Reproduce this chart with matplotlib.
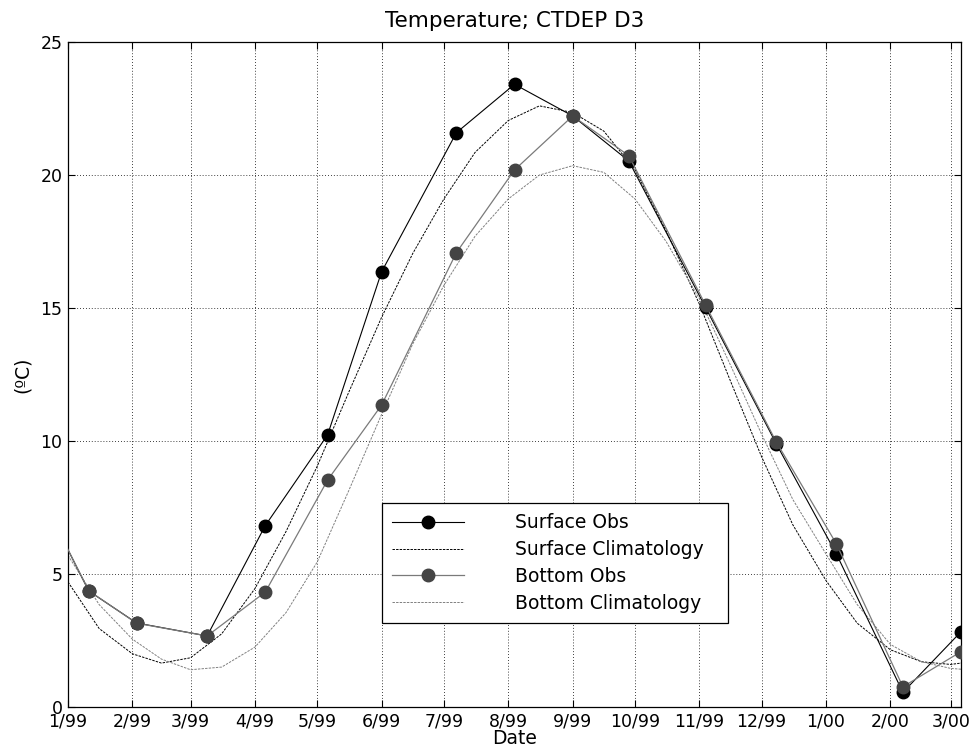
import numpy as np
import matplotlib
matplotlib.use("Agg")
import matplotlib.pyplot as plt
import matplotlib.dates as mdates
from matplotlib.ticker import FuncFormatter

# observations (surface and bottom), CTDEP station D3
obs_dates = np.array(['1998-12-15', '1999-01-11', '1999-02-03', '1999-03-09', '1999-04-06',
                      '1999-05-06', '1999-06-01', '1999-07-07', '1999-08-04', '1999-09-01',
                      '1999-09-28', '1999-11-04', '1999-12-08', '2000-01-06', '2000-02-07',
                      '2000-03-06'], dtype='datetime64[D]')
surf_obs = [8.55, 4.36, 3.16, 2.67, 6.82, 10.23, 16.36, 21.59, 23.41, 22.22,
            20.53, 15.02, 9.90, 5.75, 0.55, 2.83]
bot_obs = [8.55, 4.37, 3.15, 2.67, 4.32, 8.53, 11.35, 17.08, 20.19, 22.22,
           20.73, 15.11, 9.97, 6.13, 0.76, 2.08]

clim_dates = np.array(['1999-01-01', '1999-01-16', '1999-02-01', '1999-02-15', '1999-03-01',
                       '1999-03-16', '1999-04-01', '1999-04-16', '1999-05-01', '1999-05-16',
                       '1999-06-01', '1999-06-16', '1999-07-01', '1999-07-16', '1999-08-01',
                       '1999-08-16', '1999-09-01', '1999-09-16', '1999-10-01', '1999-10-16',
                       '1999-11-01', '1999-11-16', '1999-12-01', '1999-12-16', '2000-01-01',
                       '2000-01-16', '2000-02-01', '2000-02-16', '2000-03-01', '2000-03-06'],
                      dtype='datetime64[D]')
surf_clim = [4.7, 2.95, 2.0, 1.65, 1.85, 2.75, 4.45, 6.6, 9.05, 11.8,
             14.65, 17.05, 19.1, 20.85, 22.05, 22.6, 22.35, 21.65, 20.2, 17.9,
             15.15, 12.25, 9.4, 6.85, 4.75, 3.15, 2.15, 1.7, 1.6, 1.65]
bot_clim = [5.7, 3.85, 2.55, 1.8, 1.4, 1.5, 2.25, 3.55, 5.45, 8.1,
            11.0, 13.65, 15.85, 17.7, 19.1, 20.0, 20.35, 20.1, 19.1, 17.5,
            15.35, 12.85, 10.25, 7.8, 5.75, 3.85, 2.35, 1.7, 1.45, 1.42]

labels = ['Surface Obs', 'Surface Climatology', 'Bottom Obs', 'Bottom Climatology']

plt.rcParams['font.family'] = 'DejaVu Sans'

fig = plt.figure(figsize=(9.74, 7.49), dpi=100)
ax = fig.add_axes([0.0698, 0.0561, 0.9169, 0.8878])

ax.plot(obs_dates, surf_obs, '-o', color='k', lw=0.8, ms=9, mfc='k', mec='k',
        label=labels[0], zorder=3)
ax.plot(clim_dates, surf_clim, color='k', lw=0.7, dashes=(2.5, 1.2),
        label=labels[1], zorder=2)
ax.plot(obs_dates, bot_obs, '-o', color='#7a7a7a', lw=0.9, ms=9, mfc='#444444',
        mec='#444444', label=labels[2], zorder=4)
ax.plot(clim_dates, bot_clim, color='#808080', lw=0.7, dashes=(2.5, 1.2),
        label=labels[3], zorder=2)

ax.set_xlim(np.datetime64('1999-01-01'), np.datetime64('2000-03-06'))
ax.set_ylim(0, 25)
ax.set_yticks([0, 5, 10, 15, 20, 25])

ax.xaxis.set_major_locator(mdates.MonthLocator())
ax.xaxis.set_major_formatter(FuncFormatter(
    lambda v, pos: '%d/%s' % (mdates.num2date(v).month, mdates.num2date(v).strftime('%y'))))

ax.grid(True, color='k', linestyle=(0, (1, 2.5)), lw=0.6)
ax.tick_params(direction='in', length=5, width=0.8, top=True, right=True,
               labelsize=12.5, pad=4)
for s in ax.spines.values():
    s.set_linewidth(0.9)

ax.set_title('Temperature; CTDEP D3', fontsize=15.5, pad=11)
ax.set_xlabel('Date', fontsize=13.5, labelpad=-1)
ax.set_ylabel('(\u00baC)', fontsize=13.5, labelpad=6)

leg = ax.legend(loc='upper left', bbox_to_anchor=(0.3516, 0.0, 0.3875, 0.3068),
                mode='expand', fontsize=13.5,
                numpoints=1, handlelength=3.85, handletextpad=2.7, labelspacing=0.42,
                borderpad=0.55, fancybox=False, framealpha=1, edgecolor='k',
                borderaxespad=0)
leg.get_frame().set_linewidth(0.9)

fig.savefig('out.png', dpi=100)
